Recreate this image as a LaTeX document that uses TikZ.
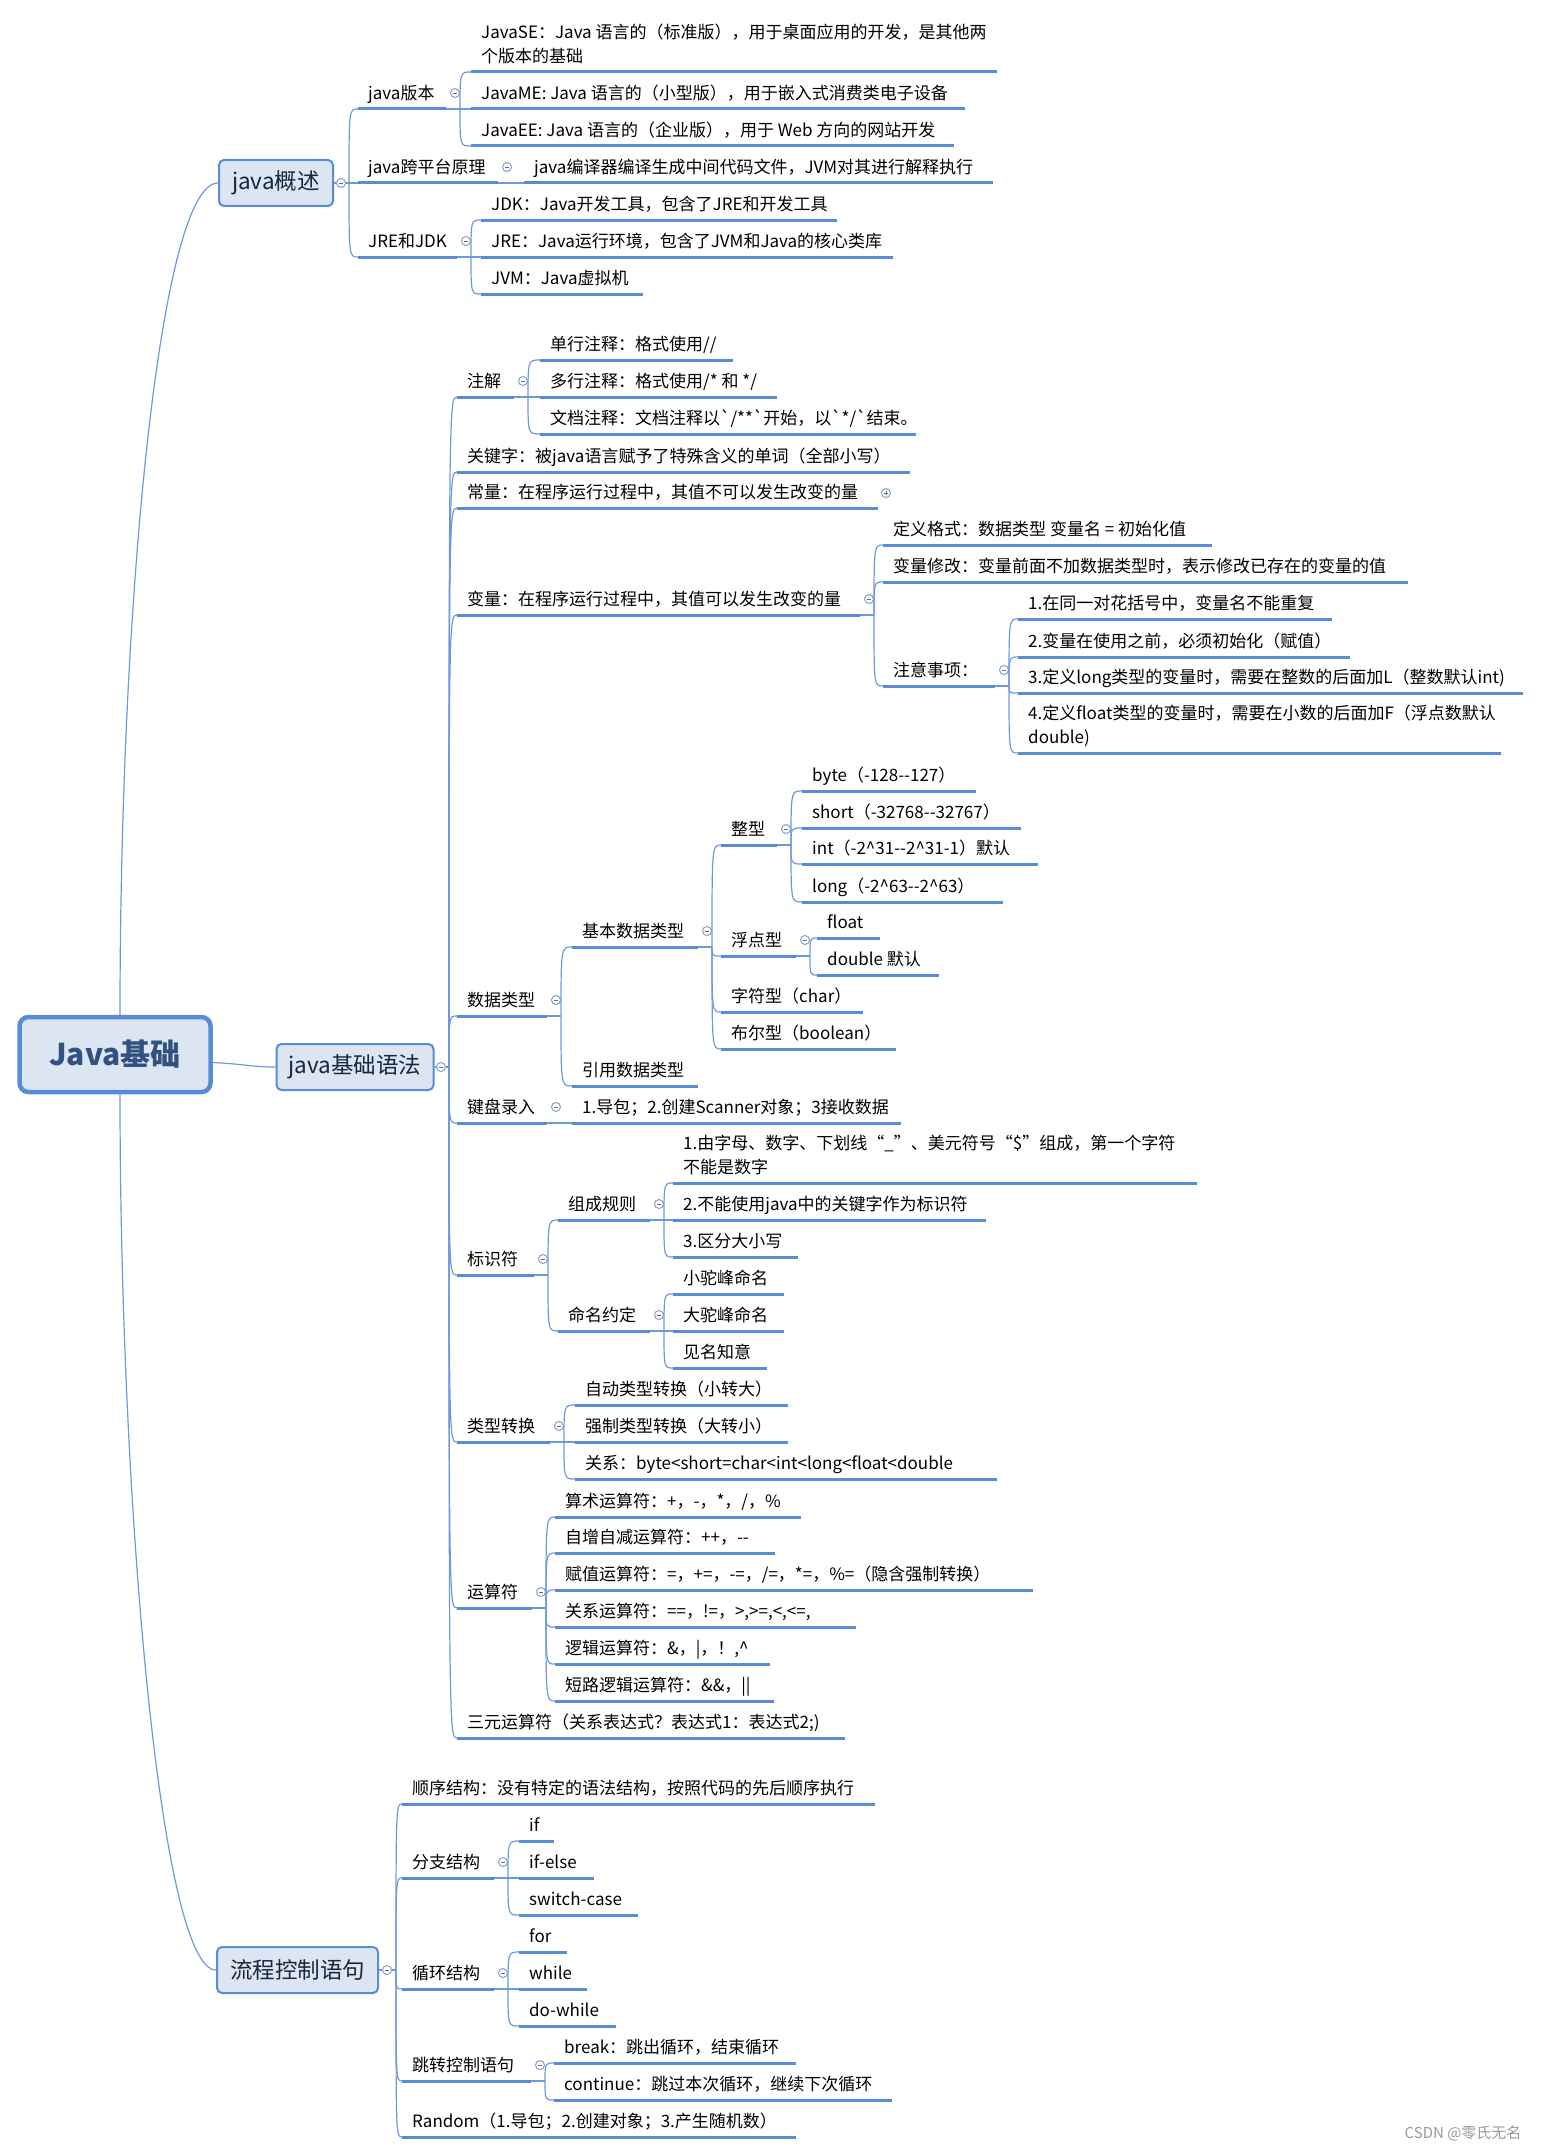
\documentclass[tikz,border=0pt]{standalone}
\usepackage{fontspec}
\setmainfont{Noto Sans CJK SC}
\definecolor{ucol}{RGB}{88,140,214}
\definecolor{lcol}{RGB}{110,152,220}
\definecolor{boxfill}{RGB}{220,230,242}
\definecolor{foldcol}{RGB}{135,160,205}
\definecolor{roottext}{RGB}{50,80,128}
\definecolor{boxtext}{RGB}{25,38,60}
\newcommand\leaffont{\fontsize{17}{24}\selectfont}
% topic: [baseline offset] name, left, right, y of the line, text
\newcommand\topic[6][9.5]{%
  \draw[uline] (#3,#5) coordinate (#2-w) -- (#4,#5) coordinate (#2-e);
  \node[topic] (#2) at (#3+10,#5-#1) {#6};}
% fold: circle after a topic and the point where its children start
\newcommand\fold[1]{%
  \coordinate (#1-j) at ([xshift=14pt]#1-e);
  \draw[link] (#1-e) -- (#1-j);
  \node[fold] (#1-f) at ([shift={(9pt,16pt)}]#1-e) {};}
\begin{document}
\begin{tikzpicture}[x=1pt,y=-1pt,
  uline/.style={draw=ucol,line width=3pt},
  link/.style={draw=lcol,line width=1.2pt},
  topic/.style={anchor=base west,inner sep=0pt,align=left,font=\leaffont},
  fold/.style={circle,draw=foldcol,line width=1pt,minimum size=9pt,inner sep=0pt,fill=white,
    path picture={\draw[foldcol!70!black,line width=.9pt] ([xshift=-2.3pt]path picture bounding box.center) -- ([xshift=2.3pt]path picture bounding box.center);}},
  unfold/.style={circle,draw=foldcol,line width=1pt,minimum size=9pt,inner sep=0pt,fill=white,
    path picture={\draw[foldcol!70!black,line width=.9pt] ([xshift=-2.3pt]path picture bounding box.center) -- ([xshift=2.3pt]path picture bounding box.center);
      \draw[foldcol!70!black,line width=.9pt] ([yshift=-2.3pt]path picture bounding box.center) -- ([yshift=2.3pt]path picture bounding box.center);}},
  box/.style={rectangle,rounded corners=5pt,draw=ucol,fill=boxfill,line width=2pt,minimum height=46pt,
    font=\fontsize{22.5}{26}\selectfont,text=boxtext},
  rootbox/.style={box,rounded corners=9pt,line width=4.5pt,minimum width=191pt,minimum height=75pt,
    font=\fontsize{30}{34}\selectfont\bfseries,text=roottext}]
\useasboundingbox (0,0) rectangle (1540,2154);

% root and main branches
\node[rootbox] (root) at (115,1054.5) {Java基础};
\node[box,minimum width=114pt] (gs) at (276,183) {java概述};
\node[box,minimum width=157pt] (yf) at (355,1067) {java基础语法};
\node[box,minimum width=161pt] (lc) at (297.5,1970) {流程控制语句};
\draw[link] ([xshift=5pt]root.north) .. controls (120,600) and (160,183) .. (gs.west);
\draw[link] ([xshift=5pt]root.south) .. controls (120,1500) and (160,1970) .. (lc.west);
\draw[link] ([yshift=-8pt]root.east) .. controls (245,1064) and (250,1067) .. (yf.west);
\coordinate (gs-j) at (349,183);
\coordinate (yf-j) at (449,1067);
\coordinate (lc-j) at (396,1970);
\draw[link] (gs.east) -- (gs-j);
\draw[link] (yf.east) -- (yf-j);
\draw[link] (lc.east) -- (lc-j);
\node[fold] (gs-f) at (341,183) {};
\node[fold] (yf-f) at (441,1067) {};
\node[fold] (lc-f) at (387,1970) {};

% java概述
\topic{bb}{358}{446}{109}{java版本}
\topic{kpt}{358}{498}{183}{java跨平台原理}
\topic{jj}{358}{457}{257}{JRE和JDK}
\foreach \c in {bb,kpt,jj}
\draw[link] (gs-j) .. controls (gs-j |- \c-w) .. (\c-w);
\fold{bb}
\topic{se}{471}{997}{72}{JavaSE：Java 语言的（标准版），用于桌面应用的开发，是其他两\\个版本的基础}
\topic{me}{471}{965}{109}{JavaME: Java 语言的（小型版），用于嵌入式消费类电子设备}
\topic{ee}{471}{954}{146}{JavaEE: Java 语言的（企业版），用于 Web 方向的网站开发}
\foreach \c in {se,me,ee}
\draw[link] (bb-j) .. controls (bb-j |- \c-w) .. (\c-w);
\fold{kpt}
\topic{jvmrun}{524}{993}{183}{java编译器编译生成中间代码文件，JVM对其进行解释执行}
\draw[link] (kpt-j) -- (jvmrun-w);
\fold{jj}
\topic{jdk}{481}{837}{220}{JDK：Java开发工具，包含了JRE和开发工具}
\topic{jre}{481}{893}{257}{JRE：Java运行环境，包含了JVM和Java的核心类库}
\topic{jvm}{481}{643}{294}{JVM：Java虚拟机}
\foreach \c in {jdk,jre,jvm}
\draw[link] (jj-j) .. controls (jj-j |- \c-w) .. (\c-w);

% java基础语法
\topic{zj}{457}{514}{397}{注解}
\topic{gjz}{457}{910}{472}{关键字：被java语言赋予了特殊含义的单词（全部小写）}
\topic{cl}{457}{878}{508}{常量：在程序运行过程中，其值不可以发生改变的量}
\topic{bl}{457}{860}{615}{变量：在程序运行过程中，其值可以发生改变的量}
\topic{sjlx}{457}{547}{1016}{数据类型}
\topic{jp}{457}{547}{1123}{键盘录入}
\topic{bsf}{457}{534}{1275}{标识符}
\topic{lx}{457}{550}{1442}{类型转换}
\topic{ysf}{457}{532}{1608}{运算符}
\topic{sy}{457}{845}{1738}{三元运算符（关系表达式？表达式1：表达式2;)}
\foreach \c in {zj,gjz,cl,bl,sjlx,jp,bsf,lx,ysf,sy}
\draw[link] (yf-j) .. controls (yf-j |- \c-w) .. (\c-w);
\node[unfold] (cl-f) at ([shift={(8pt,15pt)}]cl-e) {};

\fold{zj}
\topic{zj1}{540}{733}{360}{单行注释：格式使用//}
\topic{zj2}{540}{777}{397}{多行注释：格式使用/* 和 */}
\topic{zj3}{540}{916}{434}{文档注释：文档注释以\textasciigrave/**\textasciigrave 开始，以\textasciigrave */\textasciigrave 结束。}
\foreach \c in {zj1,zj2,zj3}
\draw[link] (zj-j) .. controls (zj-j |- \c-w) .. (\c-w);

\fold{bl}
\topic{dy}{883}{1212}{545}{定义格式：数据类型 变量名 = 初始化值}
\topic{xg}{883}{1408}{582}{变量修改：变量前面不加数据类型时，表示修改已存在的变量的值}
\topic{zysx}{883}{995}{686}{注意事项：}
\foreach \c in {dy,xg,zysx}
\draw[link] (bl-j) .. controls (bl-j |- \c-w) .. (\c-w);
\fold{zysx}
\topic{zy1}{1018}{1332}{619}{1.在同一对花括号中，变量名不能重复}
\topic{zy2}{1018}{1350}{657}{2.变量在使用之前，必须初始化（赋值）}
\topic{zy3}{1018}{1523}{693}{3.定义long类型的变量时，需要在整数的后面加L（整数默认int)}
\topic{zy4}{1018}{1501}{753}{4.定义float类型的变量时，需要在小数的后面加F（浮点数默认\\double)}
\foreach \c in {zy1,zy2,zy3,zy4}
\draw[link] (zysx-j) .. controls (zysx-j |- \c-w) .. (\c-w);

\fold{sjlx}
\topic{jb}{572}{698}{947}{基本数据类型}
\topic{yy}{572}{698}{1086}{引用数据类型}
\foreach \c in {jb,yy}
\draw[link] (sjlx-j) .. controls (sjlx-j |- \c-w) .. (\c-w);
\fold{jb}
\topic{zx}{721}{777}{845}{整型}
\topic{fd}{721}{796}{956}{浮点型}
\topic{zf}{721}{863}{1012}{字符型（char）}
\topic{be}{721}{896}{1049}{布尔型（boolean）}
\foreach \c in {zx,fd,zf,be}
\draw[link] (jb-j) .. controls (jb-j |- \c-w) .. (\c-w);
\fold{zx}
\topic{byte}{802}{976}{791}{byte（-128-{}-127）}
\topic{short}{802}{1021}{828}{short（-32768-{}-32767）}
\topic{int}{802}{1038}{864}{int（-2\textasciicircum31-{}-2\textasciicircum31-1）默认}
\topic{long}{802}{1003}{902}{long（-2\textasciicircum63-{}-2\textasciicircum63）}
\foreach \c in {byte,short,int,long}
\draw[link] (zx-j) .. controls (zx-j |- \c-w) .. (\c-w);
\fold{fd}
\topic{float}{817}{880}{938}{float}
\topic{double}{817}{939}{975}{double 默认}
\foreach \c in {float,double}
\draw[link] (fd-j) .. controls (fd-j |- \c-w) .. (\c-w);

\fold{jp}
\topic{jp1}{572}{901}{1123}{1.导包；2.创建Scanner对象；3接收数据}
\draw[link] (jp-j) -- (jp1-w);

\fold{bsf}
\topic{zc}{558}{650}{1220}{组成规则}
\topic{mm}{558}{650}{1331}{命名约定}
\foreach \c in {zc,mm}
\draw[link] (bsf-j) .. controls (bsf-j |- \c-w) .. (\c-w);
\fold{zc}
\topic{zc1}{673}{1197}{1183}{1.由字母、数字、下划线“\_”、美元符号“\$”组成，第一个字符\\不能是数字}
\topic{zc2}{673}{986}{1220}{2.不能使用java中的关键字作为标识符}
\topic{zc3}{673}{798}{1257}{3.区分大小写}
\foreach \c in {zc1,zc2,zc3}
\draw[link] (zc-j) .. controls (zc-j |- \c-w) .. (\c-w);
\fold{mm}
\topic{mm1}{673}{784}{1294}{小驼峰命名}
\topic{mm2}{673}{784}{1331}{大驼峰命名}
\topic{mm3}{673}{767}{1368}{见名知意}
\foreach \c in {mm1,mm2,mm3}
\draw[link] (mm-j) .. controls (mm-j |- \c-w) .. (\c-w);

\fold{lx}
\topic{lx1}{575}{788}{1405}{自动类型转换（小转大）}
\topic{lx2}{575}{788}{1442}{强制类型转换（大转小）}
\topic{lx3}{575}{997}{1479}{关系：byte<short=char<int<long<float<double}
\foreach \c in {lx1,lx2,lx3}
\draw[link] (lx-j) .. controls (lx-j |- \c-w) .. (\c-w);

\fold{ysf}
\topic{ys1}{555}{801}{1517}{算术运算符：+，-，*，/，\%}
\topic{ys2}{555}{775}{1553}{自增自减运算符：++，-{}-}
\topic{ys3}{555}{1033}{1590}{赋值运算符：=，+=，-=，/=，*=，\%=（隐含强制转换）}
\topic{ys4}{555}{856}{1627}{关系运算符：==，!=，>,>=,<,<=,}
\topic{ys5}{555}{770}{1664}{逻辑运算符：\&，|，！,\textasciicircum}
\topic{ys6}{555}{774}{1701}{短路逻辑运算符：\&\&，||}
\foreach \c in {ys1,ys2,ys3,ys4,ys5,ys6}
\draw[link] (ysf-j) .. controls (ysf-j |- \c-w) .. (\c-w);

% 流程控制语句
\topic{sx}{402}{875}{1804}{顺序结构：没有特定的语法结构，按照代码的先后顺序执行}
\topic{fz}{402}{494}{1878}{分支结构}
\topic{xh}{402}{494}{1989}{循环结构}
\topic{tz}{402}{531}{2081}{跳转控制语句}
\topic{rd}{402}{796}{2137}{Random（1.导包；2.创建对象；3.产生随机数）}
\foreach \c in {sx,fz,xh,tz,rd}
\draw[link] (lc-j) .. controls (lc-j |- \c-w) .. (\c-w);
\fold{fz}
\topic{if}{519}{554}{1841}{if}
\topic{ifelse}{519}{594}{1878}{if-else}
\topic{sw}{519}{638}{1915}{switch-case}
\foreach \c in {if,ifelse,sw}
\draw[link] (fz-j) .. controls (fz-j |- \c-w) .. (\c-w);
\fold{xh}
\topic{for}{519}{567}{1952}{for}
\topic{while}{519}{587}{1989}{while}
\topic{dowhile}{519}{616}{2026}{do-while}
\foreach \c in {for,while,dowhile}
\draw[link] (xh-j) .. controls (xh-j |- \c-w) .. (\c-w);
\fold{tz}
\topic{brk}{554}{796}{2063}{break：跳出循环，结束循环}
\topic{cont}{554}{892}{2100}{continue：跳过本次循环，继续下次循环}
\foreach \c in {brk,cont}
\draw[link] (tz-j) .. controls (tz-j |- \c-w) .. (\c-w);

\node[anchor=east,font=\fontsize{15}{18}\selectfont,text=black!40] (wm) at (1525,2133) {CSDN @零氏无名};
\end{tikzpicture}
\end{document}
